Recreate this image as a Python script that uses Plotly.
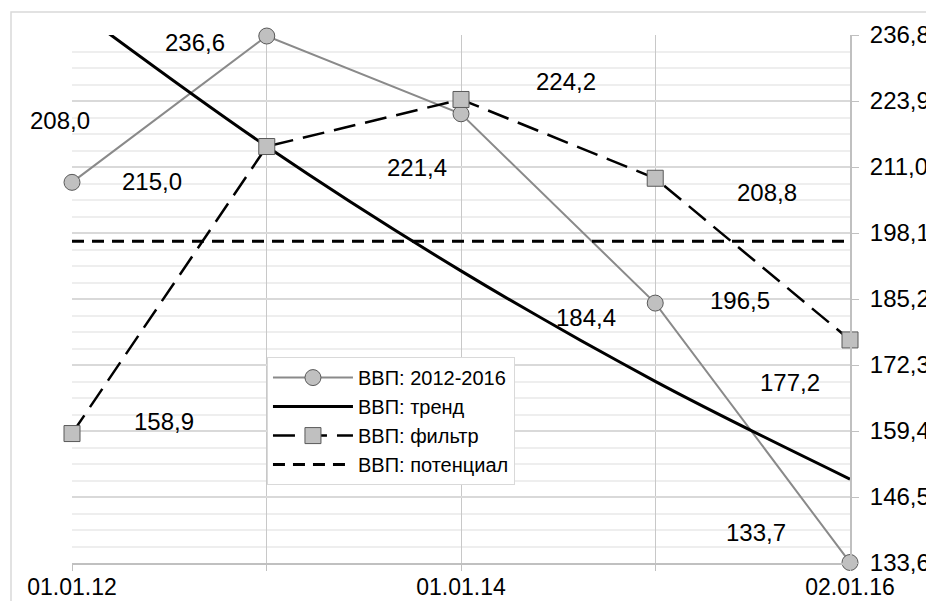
# chart: GDP series, trend, filter and potential
import plotly.graph_objects as go

# data
fechas = ["2012-01-01", "2013-01-01", "2014-01-01", "2015-01-01", "2016-01-02"]
vvp_fact = [208.0, 236.6, 221.4, 184.4, 133.7]
vvp_trend = [242.4, 215.0, 190.7, 169.1, 150.0]
vvp_filtr = [158.9, 215.0, 224.2, 208.8, 177.2]
vvp_potential = [196.5, 196.5, 196.5, 196.5, 196.5]

y_ticks = [133.6, 146.5, 159.4, 172.3, 185.2, 198.1, 211.0, 223.9, 236.8]
x_ticktext = ["01.01.12", "", "01.01.14", "", "02.01.16"]

FONT = "Liberation Sans, Arial, sans-serif"

fig = go.Figure()

fig.add_trace(go.Scatter(
    x=fechas, y=vvp_fact, name="ВВП: 2012-2016",
    mode="lines+markers",
    line=dict(color="#8a8a8a", width=2),
    marker=dict(symbol="circle", size=16, color="#c0c0c0", line=dict(color="#595959", width=1)),
    cliponaxis=False,
))
fig.add_trace(go.Scatter(
    x=fechas, y=vvp_trend, name="ВВП: тренд",
    mode="lines",
    line=dict(color="black", width=3, shape="spline"),
))
fig.add_trace(go.Scatter(
    x=fechas, y=vvp_filtr, name="ВВП: фильтр",
    mode="lines+markers",
    line=dict(color="black", width=2.5, dash="22px,10px"),
    marker=dict(symbol="square", size=16, color="#c0c0c0", line=dict(color="#595959", width=1)),
    cliponaxis=False,
))
fig.add_trace(go.Scatter(
    x=fechas, y=vvp_potential, name="ВВП: потенциал",
    mode="lines",
    line=dict(color="black", width=3, dash="12px,8px"),
))

# data labels (offsets in pixels from each point)
def fmt(v):
    return f"{v:.1f}".replace(".", ",")

etiquetas = []
off_fact = [(-12, 62), (-72, -6), (-44, -54), (-69, -14), (-94, 30)]
for f, v, (dx, dy) in zip(fechas, vvp_fact, off_fact):
    etiquetas.append((f, v, dx, dy))
off_filtr = [(92, 12), (-115, -35), (105, 18), (112, -14), (-60, -43)]
for f, v, (dx, dy) in zip(fechas, vvp_filtr, off_filtr):
    etiquetas.append((f, v, dx, dy))
etiquetas.append((fechas[3], vvp_potential[3], 85, -59))

for f, v, dx, dy in etiquetas:
    fig.add_annotation(
        x=f, y=v, text=fmt(v), showarrow=False,
        xshift=dx, yshift=dy,
        font=dict(family=FONT, size=24, color="black"),
    )

# outer chart border (only top and left visible)
fig.add_shape(
    type="rect", xref="paper", yref="paper",
    x0=-0.0784, x1=1.3, y0=-0.3, y1=1.0436,
    line=dict(color="#d9d9d9", width=1.5), fillcolor="rgba(0,0,0,0)", layer="below",
)

# the page body adds an 8px margin, so the figure is a bit smaller
fig.update_layout(
    width=926, height=593,
    margin=dict(l=64, r=84, t=27, b=38),
    paper_bgcolor="white", plot_bgcolor="white",
    separators=", ",
    font=dict(family=FONT, size=24, color="black"),
    showlegend=True,
    legend=dict(
        x=0.2506, y=0.39, xanchor="left", yanchor="top",
        bgcolor="white", bordercolor="#d9d9d9", borderwidth=1,
        font=dict(family=FONT, size=20, color="black"),
        itemwidth=80,
    ),
    xaxis=dict(
        type="date",
        range=["2012-01-01", "2016-01-02"],
        tickmode="array", tickvals=fechas, ticktext=x_ticktext,
        tickfont=dict(size=23),
        showgrid=True, gridcolor="#c8c8c8", gridwidth=1,
        showline=True, linecolor="#c0c0c0", linewidth=2,
        ticks="outside", ticklen=6, tickcolor="#c0c0c0",
        ticklabelstandoff=-4,
        zeroline=False, automargin=False,
    ),
    yaxis=dict(
        side="right",
        range=[133.6, 236.8],
        tickmode="array", tickvals=y_ticks, tickformat=".1f",
        showgrid=True, gridcolor="#d9d9d9", gridwidth=1.5,
        minor=dict(tick0=133.6, dtick=3.225, showgrid=True, gridcolor="#eeeeee", gridwidth=1.5),
        showline=True, linecolor="#c0c0c0", linewidth=2,
        ticks="outside", ticklen=7, tickcolor="#c0c0c0",
        ticklabelstandoff=6,
        zeroline=False, automargin=False,
    ),
)

fig.write_html("out.html")
